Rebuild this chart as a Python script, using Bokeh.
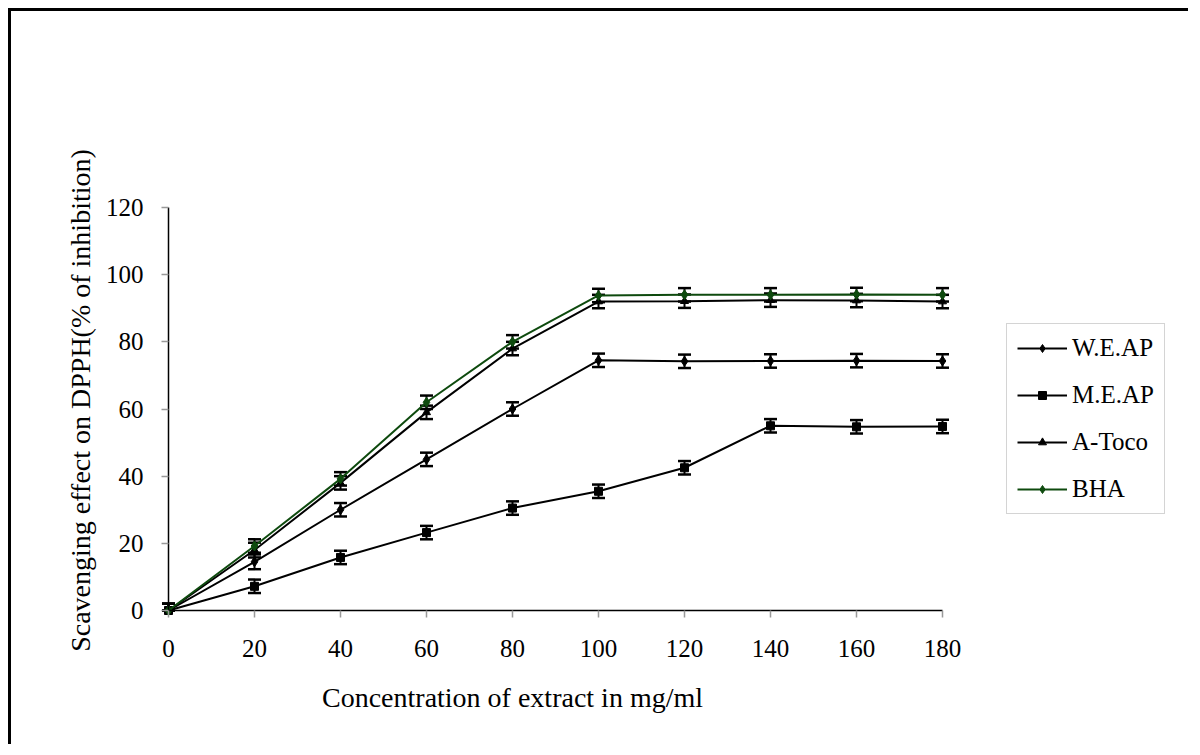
import math
from bokeh.plotting import figure
from bokeh.models import (ColumnDataSource, Whisker, TeeHead, Legend, LegendItem,
                          FixedTicker, Range1d, Label)
from bokeh.embed import file_html
from bokeh.resources import INLINE

concentration = [0, 20, 40, 60, 80, 100, 120, 140, 160, 180]
w_e_ap = [0, 14.5, 30.0, 45.0, 60.0, 74.5, 74.2, 74.3, 74.4, 74.3]
m_e_ap = [0, 7.2, 15.8, 23.2, 30.5, 35.5, 42.5, 55.0, 54.7, 54.8]
a_toco = [0, 18.0, 38.0, 59.0, 78.0, 92.0, 92.1, 92.4, 92.3, 92.0]
bha = [0, 19.2, 39.2, 62.0, 80.0, 93.8, 94.0, 94.0, 94.1, 94.0]
err_w = [2.0, 2.2, 2.0, 2.0, 2.0, 2.0, 2.0, 2.0, 2.0, 2.0]
err_m = [2.0, 2.0, 2.0, 2.0, 2.0, 2.0, 2.0, 2.0, 2.0, 2.0]
err_a = [2.0, 2.2, 2.0, 2.0, 2.0, 2.0, 2.0, 2.0, 2.0, 2.0]
err_b = [2.0, 2.0, 2.0, 2.0, 2.0, 2.0, 2.0, 2.0, 2.0, 2.0]

x_ticks = [0, 20, 40, 60, 80, 100, 120, 140, 160, 180]
y_ticks = [0, 20, 40, 60, 80, 100, 120]
x_span = (0, 180)
y_span = (0, 120)
x_title = "Concentration of extract in mg/ml"
y_title = "Scavenging effect on DPPH(% of inhibition)"

GREEN = "#0e4a0e"
FONT = "Liberation Serif"

# layout (pixels, canvas coordinates)
W, H = 1180, 736
ORIGIN_X, ORIGIN_Y = 157, 599      # canvas pixel of data (0, 0), from top-left
X_PX, Y_PX = 774.0, 403.0          # pixel length of the 0..180 and 0..120 spans
sx = X_PX / (x_span[1] - x_span[0])
sy = Y_PX / (y_span[1] - y_span[0])


def dx(px):
    return (px - ORIGIN_X) / sx


def dy(py):
    return (ORIGIN_Y - py) / sy


p = figure(width=W, height=H, output_backend="svg", toolbar_location=None,
           x_range=Range1d(dx(0), dx(W)), y_range=Range1d(dy(H), dy(0)),
           min_border=0, min_border_left=0, min_border_right=0,
           min_border_top=0, min_border_bottom=0)
p.styles = {"border-top": "3px solid black", "border-left": "3px solid black",
            "margin-left": "8px", "margin-top": "8px"}
p.outline_line_color = None
p.xgrid.visible = False
p.ygrid.visible = False

for ax in (p.xaxis[0], p.yaxis[0]):
    ax.fixed_location = 0
    ax.axis_line_color = "black"
    ax.axis_line_width = 1.5
    ax.major_tick_line_color = "#999999"
    ax.major_tick_line_width = 1.5
    ax.major_tick_in = 0
    ax.major_tick_out = 7
    ax.minor_tick_line_color = None
    ax.major_label_text_font = FONT
    ax.major_label_text_font_size = "25px"
    ax.major_label_text_color = "black"

p.xaxis.bounds = x_span
p.yaxis.bounds = y_span
p.xaxis.ticker = FixedTicker(ticks=x_ticks)
p.yaxis.ticker = FixedTicker(ticks=y_ticks)
p.xaxis.major_label_standoff = 22
p.yaxis.major_label_standoff = 18

p.add_layout(Label(x=dx(501), y=dy(686), text=x_title, text_font=FONT,
                   text_font_size="28px", text_color="black",
                   text_align="center", text_baseline="middle"))
p.add_layout(Label(x=dx(69), y=dy(389), text=y_title, text_font=FONT,
                   text_font_size="28px", text_color="black", angle=math.pi / 2,
                   text_align="center", text_baseline="middle"))

series = [
    ("W.E.AP", w_e_ap, err_w, "black", "diamond", 10),
    ("M.E.AP", m_e_ap, err_m, "black", "square", 8),
    ("A-Toco", a_toco, err_a, "black", "triangle", 8),
    ("BHA", bha, err_b, GREEN, "diamond", 10),
]

items = []
for name, vals, err, color, marker, size in series:
    src = ColumnDataSource(dict(
        x=concentration, y=vals,
        upper=[v + e for v, e in zip(vals, err)],
        lower=[max(y_span[0], v - e) for v, e in zip(vals, err)],
    ))
    w = Whisker(base="x", upper="upper", lower="lower", source=src,
                line_color="black", line_width=2,
                upper_head=TeeHead(size=13, line_color="black", line_width=2.5),
                lower_head=TeeHead(size=13, line_color="black", line_width=2.5))
    p.add_layout(w)
    r1 = p.line("x", "y", source=src, line_color=color, line_width=2)
    r2 = p.scatter("x", "y", source=src, marker=marker, size=size,
                   fill_color=color, line_color=color)
    items.append(LegendItem(label=name, renderers=[r1, r2]))

legend = Legend(items=items, location=(995, 233), orientation="vertical")
legend.label_text_font = FONT
legend.label_text_font_size = "25px"
legend.label_text_color = "black"
legend.glyph_width = 50
legend.glyph_height = 20
legend.label_height = 20
legend.label_standoff = 5
legend.spacing = 19
legend.padding = 10
legend.margin = 0
legend.border_line_color = "#aaaaaa"
legend.border_line_width = 1.5
legend.background_fill_color = "white"
p.add_layout(legend, "center")

open("out.html", "w").write(file_html(p, INLINE))
